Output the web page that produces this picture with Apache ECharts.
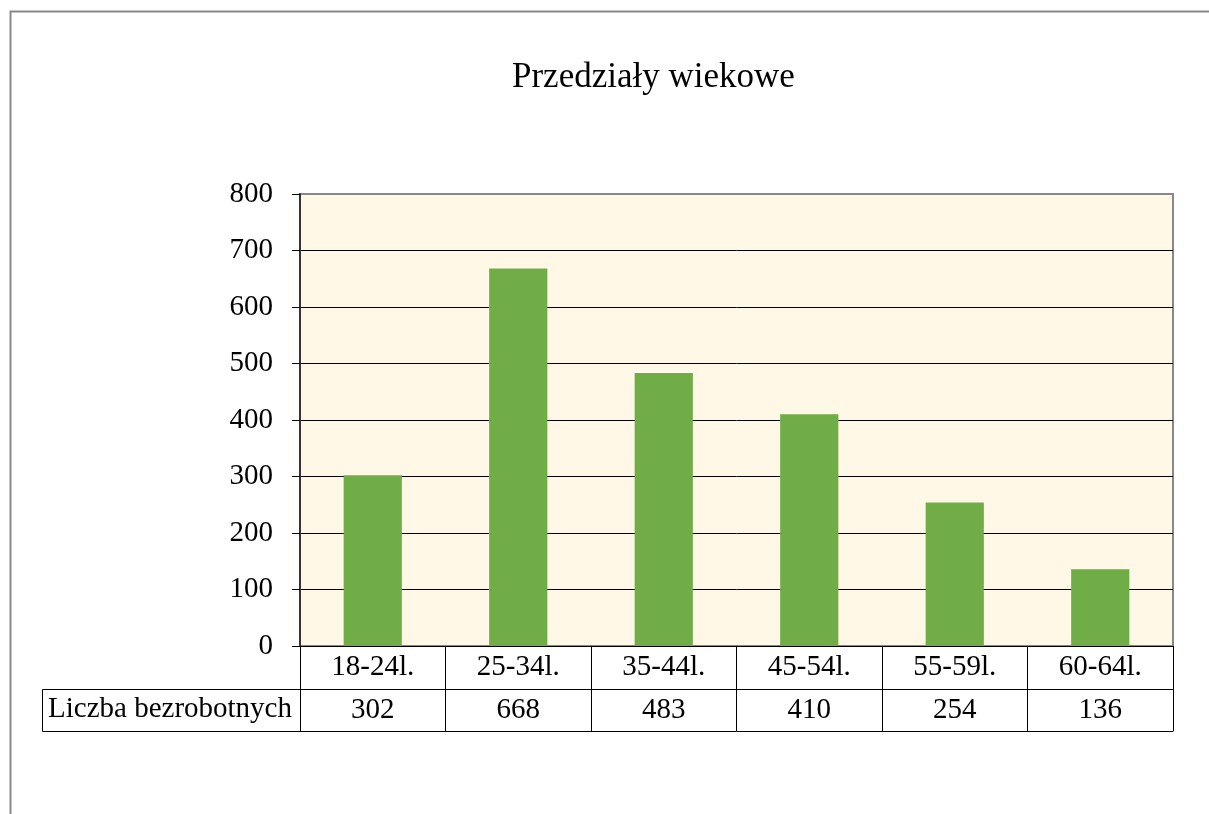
<!DOCTYPE html>
<html>
<head>
<meta charset="utf-8">
<script src="https://cdn.jsdelivr.net/npm/echarts@6/dist/echarts.min.js"></script>
<style>
  html, body { margin: 0; padding: 0; background: #fff; }
  #main { width: 1209px; height: 814px; }
</style>
</head>
<body>
<div id="main"></div>
<script>
var categories = ['18-24l.', '25-34l.', '35-44l.', '45-54l.', '55-59l.', '60-64l.'];
var values = [302, 668, 483, 410, 254, 136];
var seriesName = 'Liczba bezrobotnych';
var yTicks = { min: 0, max: 800, interval: 100 };

(function () {
    var chartDom = document.getElementById('main');
    var myChart = echarts.init(chartDom);
    var font = 'Liberation Serif';
    var option;

    option = {
        animation: false,
        textStyle: { fontFamily: font, color: '#000' },
        title: {
            text: 'Przedziały wiekowe',
            left: 507,
            top: 55,
            textStyle: { fontFamily: font, fontSize: 35, fontWeight: 'normal', color: '#000' }
        },
        grid: {
            left: 300,
            right: 36,
            top: 194,
            bottom: 168,
            show: true,
            backgroundColor: '#fff8e6',
            borderColor: '#888',
            borderWidth: 2
        },
        xAxis: [
            {
                type: 'category',
                data: categories,
                position: 'bottom',
                axisLine: { show: true, lineStyle: { color: '#000', width: 1 } },
                axisTick: { show: true, length: 85, lineStyle: { color: '#000', width: 1 } },
                axisLabel: { fontSize: 29, color: '#000', fontFamily: font, margin: 7 }
            },
            {
                type: 'category',
                data: values.map(String),
                position: 'bottom',
                offset: 43,
                axisLine: { show: true, lineStyle: { color: '#000', width: 1 } },
                axisTick: { show: false },
                axisLabel: { fontSize: 29, color: '#000', fontFamily: font, margin: 7 }
            },
            {
                type: 'category',
                data: categories,
                position: 'bottom',
                offset: 85,
                axisLine: { show: true, lineStyle: { color: '#000', width: 1 } },
                axisTick: { show: false },
                axisLabel: { show: false }
            }
        ],
        yAxis: {
            type: 'value',
            min: yTicks.min,
            max: yTicks.max,
            interval: yTicks.interval,
            axisLine: { show: true, lineStyle: { color: '#333', width: 2 } },
            axisTick: { show: true, length: 8, lineStyle: { color: '#000' } },
            axisLabel: { fontSize: 29, color: '#000', fontFamily: font, margin: 27 },
            splitLine: { show: true, showMaxLine: false, lineStyle: { color: '#000', width: 1 } }
        },
        series: [
            {
                name: seriesName,
                type: 'bar',
                xAxisIndex: 0,
                data: values,
                barWidth: '40%',
                itemStyle: { color: '#70ad47' }
            }
        ],
        graphic: [
            {
                type: 'rect',
                shape: { x: 10.5, y: 11.5, width: 1400, height: 1000 },
                style: { fill: 'none', stroke: '#888', lineWidth: 2 },
                silent: true
            },
            {
                type: 'rect',
                shape: { x: 42.5, y: 689.5, width: 258, height: 42 },
                style: { fill: 'none', stroke: '#000', lineWidth: 1 },
                silent: true
            },
            {
                type: 'text',
                left: 48,
                top: 695,
                style: { text: seriesName, fontSize: 29, fontFamily: font, fill: '#000' }
            }
        ]
    };

    option && myChart.setOption(option);
})();
</script>
</body>
</html>
